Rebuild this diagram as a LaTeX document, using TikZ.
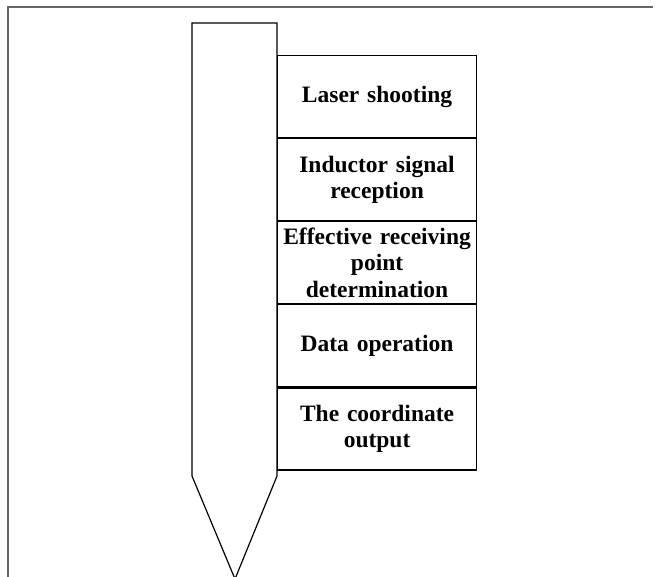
\documentclass[tikz,border=0pt]{standalone}
\usepackage{fontspec}
\setmainfont{Liberation Serif}
\begin{document}
\begin{tikzpicture}[x=1pt,y=-1pt,
  frameline/.style={draw=black!60, line width=1.2pt},
  penline/.style={draw=black, line width=1.2pt, line join=miter},
  stepbox/.style={draw=black, line width=1.1pt, minimum width=199pt, minimum height=82pt,
    inner sep=0pt, align=center, font=\fontsize{23.5}{26.5}\selectfont\bfseries, text width=199pt}]
\useasboundingbox (0,0) rectangle (660,577);
\coordinate (f1) at (653,7);
\coordinate (f2) at (8,7);
\coordinate (f3) at (8,577);
\draw[frameline] (f1) -- (f2) -- (f3);
\coordinate (p1) at (192,476);
\coordinate (p2) at (192,23);
\coordinate (p3) at (277,23);
\coordinate (p4) at (277,476);
\coordinate (tip) at (235,579);
\draw[penline] (tip) -- (p1) -- (p2) -- (p3) -- (p4) -- cycle;
\node[stepbox, anchor=north west] (b1) at (277,55) {Laser shooting};
\node[stepbox, anchor=north] (b2) at (b1.south) {Inductor signal\\reception};
\node[stepbox, anchor=north] (b3) at (b2.south) {Effective receiving\\point\\determination};
\node[stepbox, anchor=north] (b4) at (b3.south) {Data operation};
\node[stepbox, anchor=north] (b5) at (b4.south) {The coordinate\\output};
\end{tikzpicture}
\end{document}
